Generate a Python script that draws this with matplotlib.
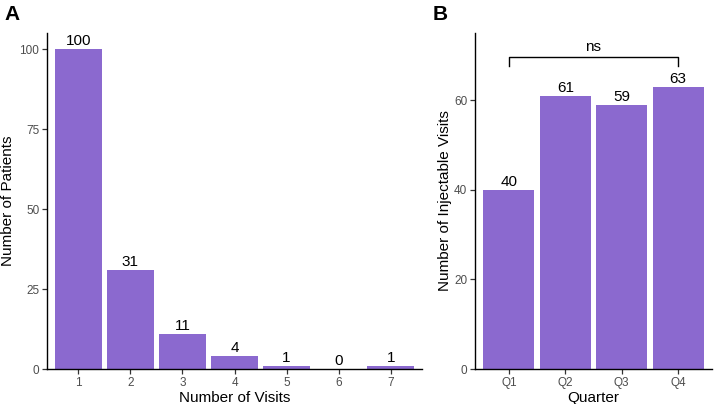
import matplotlib
matplotlib.use("Agg")
import matplotlib.pyplot as plt

plt.rcParams['font.family'] = ['Liberation Sans', 'DejaVu Sans']

visits = ["1", "2", "3", "4", "5", "6", "7"]
patients = [100, 31, 11, 4, 1, 0, 1]
quarters = ["Q1", "Q2", "Q3", "Q4"]
inj_visits = [40, 61, 59, 63]
a_yticks = [0, 25, 50, 75, 100]
b_yticks = [0, 20, 40, 60]

bar_color = "#8B69CF"
tick_color = "#4D4D4D"

fig = plt.figure(figsize=(7.14, 4.04), dpi=100)
axA = fig.add_axes([47/714, 35/404, (422-47)/714, (369-33)/404])
axB = fig.add_axes([475/714, 35/404, (712-475)/714, (369-33)/404])

def style(ax):
    for s in ["top", "right"]:
        ax.spines[s].set_visible(False)
    for s in ["left", "bottom"]:
        ax.spines[s].set_linewidth(1.0)
        ax.spines[s].set_color("black")
    ax.tick_params(axis="both", length=3.5, width=0.9, color="#333333",
                   labelcolor=tick_color, labelsize=8.5, pad=2)

# Panel A
xa = range(len(visits))
axA.bar(xa, patients, width=0.9, color=bar_color)
for x, v in zip(xa, patients):
    axA.text(x, v + 0.3, str(v), ha="center", va="bottom", fontsize=11, color="black")
axA.set_xticks(list(xa))
axA.set_xticklabels(visits)
axA.set_yticks(a_yticks)
axA.set_xlim(-0.6, len(visits) - 0.4)
axA.set_ylim(0, 105)
axA.set_xlabel("Number of Visits", fontsize=11, labelpad=2)
axA.set_ylabel("Number of Patients", fontsize=11)
axA.yaxis.set_label_coords(-0.085, 0.5)
style(axA)

# Panel B
xb = range(len(quarters))
axB.bar(xb, inj_visits, width=0.9, color=bar_color)
for x, v in zip(xb, inj_visits):
    axB.text(x, v + 0.2, str(v), ha="center", va="bottom", fontsize=11, color="black")
axB.set_xticks(list(xb))
axB.set_xticklabels(quarters)
axB.set_yticks(b_yticks)
axB.set_xlim(-0.6, len(quarters) - 0.4)
axB.set_ylim(0, 75)
axB.set_xlabel("Quarter", fontsize=11, labelpad=2)
axB.set_ylabel("Number of Injectable Visits", fontsize=11)
axB.yaxis.set_label_coords(-0.097, 0.5)
style(axB)

# significance bracket
yb, yt = 67.6, 69.6
axB.plot([0, 0, 3, 3], [yb, yt, yt, yb], color="black", lw=1.0)
axB.text(1.5, yt + 0.8, "ns", ha="center", va="bottom", fontsize=11)

fig.text(4/714, 1 - 14/404, "A", fontsize=15, fontweight="bold", va="center", ha="left")
fig.text(433/714, 1 - 14/404, "B", fontsize=15, fontweight="bold", va="center", ha="left")

fig.savefig("out.png", dpi=100)
